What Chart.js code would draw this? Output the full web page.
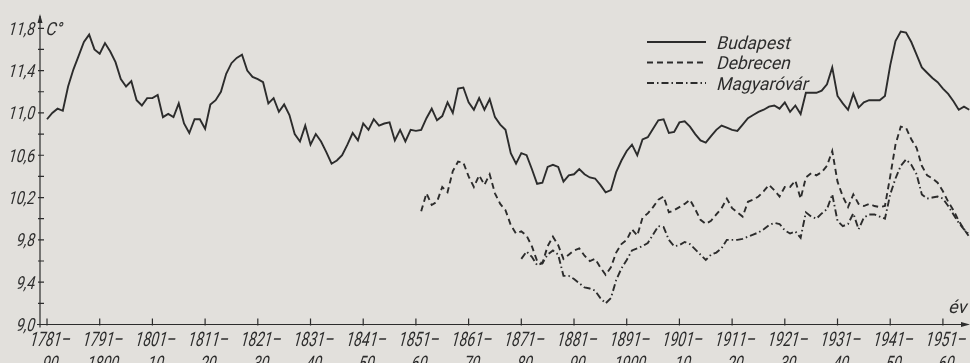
<!DOCTYPE html>
<html>
<head>
<meta charset="utf-8">
<script src="https://cdn.jsdelivr.net/npm/chart.js@4.4.1/dist/chart.umd.min.js"></script>
<style>
  html, body { margin: 0; padding: 0; background: #e2e0dc; }
  #wrap { width: 970px; height: 363px; position: relative; }
</style>
</head>
<body>
<div id="wrap"><canvas id="chart"></canvas></div>
<script>
// Ten-year running mean of annual air temperature (°C), one value per
// period start year (1781 = period 1781–90, ... 1956 = period 1956–65).
const budapestStart = 1781;
const budapest = [
  10.94, 11.00, 11.04, 11.02, 11.25, 11.41, 11.54, 11.67, 11.74, 11.60, // 1781–1790
  11.56, 11.66, 11.58, 11.48, 11.32, 11.25, 11.30, 11.12, 11.07, 11.14, // 1791–1800
  11.14, 11.17, 10.96, 10.99, 10.96, 11.09, 10.90, 10.81, 10.94, 10.94, // 1801–1810
  10.85, 11.08, 11.12, 11.20, 11.37, 11.47, 11.52, 11.55, 11.40, 11.34, // 1811–1820
  11.32, 11.29, 11.09, 11.14, 11.01, 11.08, 10.98, 10.80, 10.73, 10.88, // 1821–1830
  10.70, 10.80, 10.73, 10.63, 10.52, 10.55, 10.60, 10.70, 10.81, 10.74, // 1831–1840
  10.90, 10.84, 10.94, 10.88, 10.90, 10.91, 10.74, 10.84, 10.73, 10.84, // 1841–1850
  10.83, 10.84, 10.95, 11.04, 10.93, 10.97, 11.10, 11.00, 11.23, 11.24, // 1851–1860
  11.10, 11.03, 11.14, 11.03, 11.13, 10.96, 10.89, 10.84, 10.62, 10.52, // 1861–1870
  10.62, 10.60, 10.47, 10.33, 10.34, 10.49, 10.51, 10.49, 10.35, 10.41, // 1871–1880
  10.42, 10.47, 10.42, 10.39, 10.38, 10.32, 10.25, 10.27, 10.44, 10.55, // 1881–1890
  10.64, 10.70, 10.60, 10.75, 10.77, 10.85, 10.93, 10.94, 10.81, 10.82, // 1891–1900
  10.91, 10.92, 10.87, 10.80, 10.74, 10.72, 10.78, 10.84, 10.88, 10.86, // 1901–1910
  10.84, 10.83, 10.89, 10.95, 10.98, 11.01, 11.03, 11.06, 11.07, 11.04, // 1911–1920
  11.10, 11.01, 11.07, 10.99, 11.19, 11.19, 11.19, 11.21, 11.27, 11.43, // 1921–1930
  11.16, 11.09, 11.03, 11.18, 11.05, 11.10, 11.12, 11.12, 11.12, 11.16, // 1931–1940
  11.45, 11.68, 11.77, 11.76, 11.67, 11.55, 11.43, 11.38, 11.33, 11.29, // 1941–1950
  11.23, 11.18, 11.11, 11.03, 11.06, 11.03                              // 1951–1956
];

const debrecenStart = 1852;
const debrecen = [
  10.07, 10.24, 10.13, 10.16, 10.30, 10.25, 10.45, 10.54, 10.53,        // 1852–1860
  10.40, 10.30, 10.41, 10.32, 10.42, 10.24, 10.14, 10.08, 9.94, 9.86,   // 1861–1870
  9.88, 9.84, 9.74, 9.60, 9.58, 9.74, 9.83, 9.75, 9.62, 9.66,           // 1871–1880
  9.70, 9.72, 9.65, 9.60, 9.62, 9.54, 9.47, 9.54, 9.68, 9.76,           // 1881–1890
  9.80, 9.90, 9.84, 10.01, 10.05, 10.11, 10.18, 10.21, 10.06, 10.08,    // 1891–1900
  10.11, 10.14, 10.18, 10.09, 9.99, 9.95, 9.98, 10.04, 10.10, 10.19,    // 1901–1910
  10.10, 10.06, 10.02, 10.16, 10.18, 10.21, 10.26, 10.32, 10.27, 10.21, // 1911–1920
  10.30, 10.30, 10.36, 10.19, 10.39, 10.43, 10.41, 10.44, 10.50, 10.64, // 1921–1930
  10.35, 10.21, 10.11, 10.23, 10.14, 10.12, 10.14, 10.12, 10.11, 10.12, // 1931–1940
  10.40, 10.70, 10.87, 10.86, 10.75, 10.67, 10.50, 10.41, 10.38, 10.34, // 1941–1950
  10.26, 10.16, 10.08, 9.98, 9.90, 9.83                                 // 1951–1956
];

const magyarovarStart = 1871;
const magyarovar = [
  9.62, 9.69, 9.64, 9.56, 9.58, 9.66, 9.70, 9.66, 9.46, 9.46,           // 1871–1880
  9.43, 9.39, 9.35, 9.34, 9.32, 9.25, 9.20, 9.25, 9.42, 9.53,           // 1881–1890
  9.61, 9.70, 9.72, 9.74, 9.77, 9.85, 9.93, 9.92, 9.80, 9.74,           // 1891–1900
  9.75, 9.78, 9.76, 9.71, 9.66, 9.61, 9.66, 9.68, 9.72, 9.80,           // 1901–1910
  9.80, 9.80, 9.81, 9.83, 9.85, 9.87, 9.90, 9.94, 9.96, 9.95,           // 1911–1920
  9.89, 9.86, 9.88, 9.82, 10.06, 10.02, 10.00, 10.05, 10.09, 10.23,     // 1921–1930
  9.98, 9.93, 9.95, 10.05, 9.90, 10.01, 10.04, 10.04, 10.02, 10.00,     // 1931–1940
  10.23, 10.38, 10.50, 10.56, 10.51, 10.42, 10.23, 10.19, 10.20, 10.21, // 1941–1950
  10.19, 10.12, 10.04, 9.96, 9.90, 9.85                                 // 1951–1956
];

// Decade ticks on the time axis and their two-line labels
const decadeStarts = [1781, 1791, 1801, 1811, 1821, 1831, 1841, 1851, 1861,
                      1871, 1881, 1891, 1901, 1911, 1921, 1931, 1941, 1951];
const decadeLabels = [
  ['1781–', '90'], ['1791–', '1800'], ['1801–', '10'], ['1811–', '20'],
  ['1821–', '30'], ['1831–', '40'], ['1841–', '50'], ['1851–', '60'],
  ['1861–', '70'], ['1871–', '80'], ['1881–', '90'], ['1891–', '1900'],
  ['1901–', '10'], ['1911–', '20'], ['1921–', '30'], ['1931–', '40'],
  ['1941–', '50'], ['1951–', '60']
];

// Temperature axis: labelled ticks and the unlabelled ones between them
const tempLabelled = [9.0, 9.4, 9.8, 10.2, 10.6, 11.0, 11.4, 11.8];
const tempBetween  = [9.2, 9.6, 10.0, 10.4, 10.8, 11.2, 11.6];

const seriesNames = ['Budapest', 'Debrecen', 'Magyaróvár'];

const toPoints = (start, values) => values.map((v, i) => ({ x: start + i, y: v }));

const INK = '#2c2c2c';
const FONT = "Roboto, 'DejaVu Sans', sans-serif";
const fmt = v => v.toFixed(1).replace('.', ',');
const isLabelled = v => tempLabelled.some(t => Math.abs(t - v) < 1e-6);

// Narrow, slanted stencil-style lettering: squeeze the glyphs horizontally and lean them
function letter(ctx, text, x, y, size, align, squeeze) {
  ctx.save();
  ctx.font = size + 'px ' + FONT;
  ctx.textAlign = align;
  ctx.textBaseline = 'alphabetic';
  ctx.translate(x, y);
  ctx.transform(squeeze, 0, -0.26, 1, 0, 0);
  ctx.fillText(text, 0, 0);
  ctx.restore();
}

// Axes drawn as plain lines with arrow heads and inward tick marks, plus captions and legend
const paperAxes = {
  id: 'paperAxes',
  beforeDatasetsDraw(chart) {
    const { ctx, chartArea: a, scales: { x, y } } = chart;
    const ox = a.left, oy = y.getPixelForValue(9.0);
    ctx.save();
    ctx.strokeStyle = INK;
    ctx.fillStyle = INK;
    ctx.lineWidth = 1.2;
    ctx.beginPath();
    ctx.moveTo(ox, oy + 3); ctx.lineTo(ox, a.top + 2);
    ctx.moveTo(ox - 3, oy); ctx.lineTo(a.right - 2, oy);
    ctx.stroke();
    ctx.beginPath();
    ctx.moveTo(ox, a.top); ctx.lineTo(ox - 2.5, a.top + 9); ctx.lineTo(ox + 2.5, a.top + 9); ctx.closePath();
    ctx.moveTo(a.right, oy); ctx.lineTo(a.right - 9, oy - 2.5); ctx.lineTo(a.right - 9, oy + 2.5); ctx.closePath();
    ctx.fill();
    ctx.beginPath();
    y.ticks.forEach(t => {
      const py = y.getPixelForValue(t.value);
      if (t.value > 9.05) { ctx.moveTo(ox - 2, py); ctx.lineTo(ox + 4, py); }
    });
    x.ticks.forEach(t => {
      const px = x.getPixelForValue(t.value);
      ctx.moveTo(px, oy + 1); ctx.lineTo(px, oy - 6);
    });
    ctx.stroke();

    // tick labels
    y.ticks.forEach(t => {
      if (isLabelled(t.value)) letter(ctx, fmt(t.value), ox - 6, y.getPixelForValue(t.value) + 6.5, 18, 'right', 0.78);
    });
    x.ticks.forEach((t, i) => {
      const px = x.getPixelForValue(t.value) + 2;
      letter(ctx, decadeLabels[i][0], px, oy + 21.5, 20, 'center', 0.7);
      letter(ctx, decadeLabels[i][1], px, oy + 45.5, 20, 'center', 0.7);
    });

    // unit captions
    letter(ctx, 'C°', ox + 5, y.getPixelForValue(11.8) + 6.5, 18, 'left', 0.9);
    letter(ctx, 'év', 948, oy - 12, 18, 'left', 1.0);
    ctx.restore();
  },
  afterDatasetsDraw(chart) {
    const { ctx, chartArea: a } = chart;
    ctx.save();
    chart.data.datasets.forEach((ds, i) => {
      const rowY = a.top + 28 + i * 20.5;
      ctx.strokeStyle = ds.borderColor;
      ctx.lineWidth = ds.borderWidth;
      ctx.setLineDash(ds.borderDash || []);
      ctx.beginPath();
      ctx.moveTo(647, rowY); ctx.lineTo(706, rowY);
      ctx.stroke();
      ctx.setLineDash([]);
      ctx.fillStyle = INK;
      letter(ctx, ds.label, 716, rowY + 6.5, 18, 'left', 0.97);
    });
    ctx.restore();
  }
};

new Chart(document.getElementById('chart'), {
  type: 'line',
  data: {
    datasets: [
      { label: seriesNames[0], data: toPoints(budapestStart, budapest),
        borderColor: INK, borderWidth: 1.9, borderDash: [] },
      { label: seriesNames[1], data: toPoints(debrecenStart, debrecen),
        borderColor: INK, borderWidth: 1.9, borderDash: [6, 4] },
      { label: seriesNames[2], data: toPoints(magyarovarStart, magyarovar),
        borderColor: INK, borderWidth: 1.9, borderDash: [7, 3, 1.5, 3] }
    ]
  },
  options: {
    responsive: true,
    maintainAspectRatio: false,
    animation: false,
    layout: { padding: { top: 14, right: 0, bottom: 0, left: 0 } },
    elements: { point: { radius: 0 }, line: { tension: 0, borderJoinStyle: 'miter' } },
    plugins: { legend: { display: false }, tooltip: { enabled: false } },
    scales: {
      x: {
        type: 'linear',
        min: 1779.67,
        max: 1956.14,
        grid: { display: false },
        border: { display: false },
        afterBuildTicks: s => { s.ticks = decadeStarts.map(v => ({ value: v })); },
        afterFit: s => { s.height = 38.5; },
        ticks: { display: false }
      },
      y: {
        min: 9.0,
        max: 11.935,
        grid: { display: false },
        border: { display: false },
        afterBuildTicks: s => {
          s.ticks = tempLabelled.concat(tempBetween).sort((p, q) => p - q).map(v => ({ value: v }));
        },
        afterFit: s => { s.width = 40; },
        ticks: { display: false }
      }
    }
  },
  plugins: [paperAxes]
});
</script>
</body>
</html>
